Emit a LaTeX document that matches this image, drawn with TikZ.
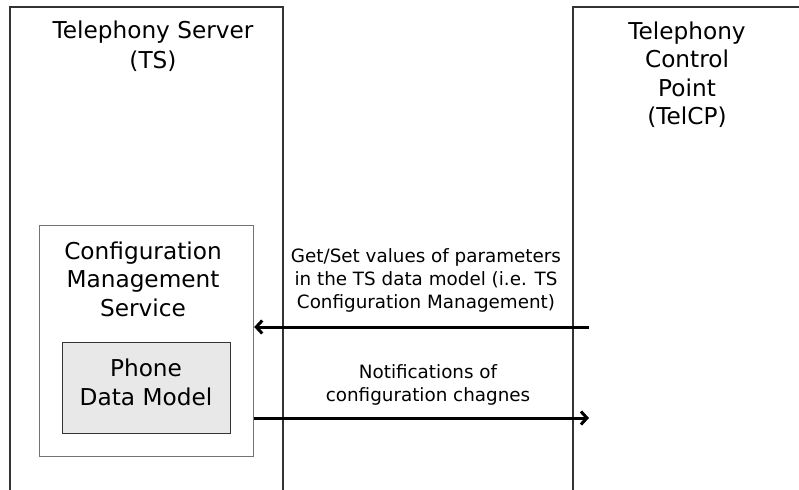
\documentclass[tikz,border=0pt]{standalone}
\usepackage{fontspec}
\setmainfont{DejaVu Sans}
\usetikzlibrary{arrows.meta}
\begin{document}
\begin{tikzpicture}[x=1bp,y=-1bp,
  lane/.style={draw=black!80,line width=1.1bp},
  cmsbox/.style={draw=black!55,line width=1.2bp,fill=white},
  dmbox/.style={draw=black!80,line width=1.1bp,fill=black!9},
  bigtxt/.style={inner sep=0pt,align=center,font=\fontsize{23.3}{28.5}\selectfont},
  lbltxt/.style={inner sep=0pt,align=center,font=\fontsize{18.4}{23}\selectfont},
  msg/.style={line width=3bp,-{Straight Barb[length=6bp,width=13bp]}},
]
\useasboundingbox (0,0) rectangle (799,490);
% lanes
\draw[lane] (10,495) -- (10,7) -- (283,7) -- (283,495);
\draw[lane] (573,495) -- (573,7) -- (805,7);
\node[bigtxt,anchor=north,font=\fontsize{23.3}{30}\selectfont] (ts) at (153,21) {Telephony Server\\(TS)};
\node[bigtxt,anchor=north] (tcp) at (687,21.5) {Telephony\\Control\\Point\\(TelCP)};
% CMS
\node[cmsbox,minimum width=214bp,minimum height=231bp,anchor=north west] (cms) at (39,225) {};
\node[bigtxt,anchor=north] (cmst) at (143,241.5) {Configuration\\Management\\Service};
\node[dmbox,minimum width=168bp,minimum height=91bp,anchor=north west] (dm) at (62,342) {};
\node[bigtxt,anchor=north] (dmt) at (146,359) {Phone\\Data Model};
% connectors
\coordinate (p1) at (589,327);
\coordinate (p2) at (589,418);
\draw[msg] (p1) -- (cms.east |- p1);
\draw[msg] (cms.east |- p2) -- (p2);
\node[lbltxt,anchor=north] (l1) at (426,248.5) {Get/Set values of parameters\\in the TS data model (i.e. TS\\Configuration Management)};
\node[lbltxt,anchor=north] (l2) at (428,364.5) {Notifications of\\configuration chagnes};
\end{tikzpicture}
\end{document}
